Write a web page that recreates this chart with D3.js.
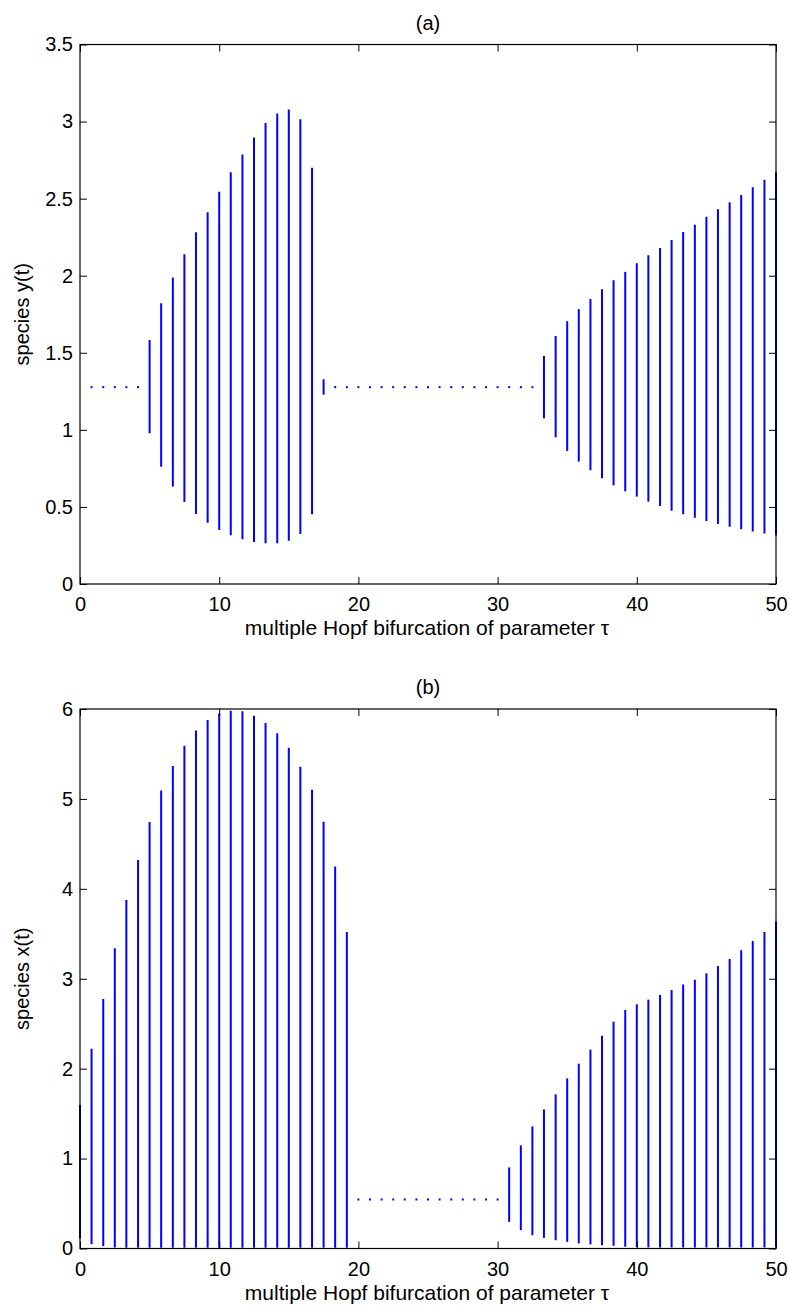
<!DOCTYPE html>
<html>
<head>
<meta charset="utf-8">
<script src="https://cdn.jsdelivr.net/npm/d3@7"></script>
<style>
  body { margin: 0; background: #fff; }
  text { font-family: "Liberation Sans", Arial, Helvetica, sans-serif; }
</style>
</head>
<body>
<div id="chart"></div>
<script>
// tau sample points (x axis), both panels share them
const tau = [0, 0.83, 1.67, 2.5, 3.33, 4.17, 5, 5.83, 6.67, 7.5, 8.33, 9.17, 10, 10.83, 11.67,
             12.5, 13.33, 14.17, 15, 15.83, 16.67, 17.5, 18.33, 19.17, 20, 20.83, 21.67, 22.5,
             23.33, 24.17, 25, 25.83, 26.67, 27.5, 28.33, 29.17, 30, 30.83, 31.67, 32.5, 33.33,
             34.17, 35, 35.83, 36.67, 37.5, 38.33, 39.17, 40, 40.83, 41.67, 42.5, 43.33, 44.17,
             45, 45.83, 46.67, 47.5, 48.33, 49.17, 50];

// panel (a): species y(t), min / max of the oscillation at each tau (null = not drawn)
const yMin = [null, 1.277, 1.277, 1.277, 1.277, 1.277,
              0.978, 0.761, 0.632, 0.532, 0.454, 0.398, 0.350, 0.316, 0.290, 0.273, 0.264, 0.264, 0.281, 0.324, 0.452,
              1.228,
              1.277, 1.277, 1.277, 1.277, 1.277, 1.277, 1.277, 1.277, 1.277, 1.277, 1.277, 1.277, 1.277, 1.277, 1.277, 1.277, 1.277, 1.277,
              1.075, 0.952, 0.863, 0.794, 0.738, 0.686, 0.640, 0.601, 0.567, 0.534, 0.506, 0.476, 0.452, 0.430, 0.409, 0.389, 0.372, 0.355, 0.340, 0.327, 0.316];
const yMax = [null, 1.277, 1.277, 1.277, 1.277, 1.277,
              1.583, 1.821, 1.988, 2.139, 2.282, 2.412, 2.544, 2.672, 2.786, 2.896, 2.990, 3.052, 3.078, 3.015, 2.700,
              1.328,
              1.277, 1.277, 1.277, 1.277, 1.277, 1.277, 1.277, 1.277, 1.277, 1.277, 1.277, 1.277, 1.277, 1.277, 1.277, 1.277, 1.277, 1.277,
              1.480, 1.609, 1.705, 1.783, 1.849, 1.912, 1.971, 2.025, 2.081, 2.133, 2.180, 2.232, 2.284, 2.330, 2.382, 2.431, 2.477, 2.524, 2.574, 2.622, 2.669];

// panel (b): species x(t)
const xMin = [0.110, 0.048, 0.026, 0.011, 0.008, 0.008, 0.008, 0.008, 0.008, 0.008, 0.008, 0.008, 0.008, 0.008, 0.008, 0.008, 0.008, 0.008, 0.008, 0.008, 0.008, 0.008, 0.008, 0.008,
              0.545, 0.545, 0.545, 0.545, 0.545, 0.545, 0.545, 0.545, 0.545, 0.545, 0.545, 0.545, 0.545,
              0.296, 0.204, 0.148, 0.118, 0.092, 0.074, 0.056, 0.045, 0.037, 0.030, 0.020, 0.015, 0.012, 0.010, 0.010, 0.010, 0.010, 0.010, 0.010, 0.010, 0.010, 0.010, 0.010, 0.010];
const xMax = [1.595, 2.222, 2.775, 3.340, 3.877, 4.322, 4.742, 5.094, 5.366, 5.592, 5.762, 5.878, 5.951, 5.981, 5.974, 5.926, 5.844, 5.729, 5.569, 5.358, 5.102, 4.746, 4.248, 3.521,
              0.545, 0.545, 0.545, 0.545, 0.545, 0.545, 0.545, 0.545, 0.545, 0.545, 0.545, 0.545, 0.545,
              0.902, 1.147, 1.358, 1.547, 1.714, 1.892, 2.055, 2.211, 2.367, 2.523, 2.653, 2.716, 2.768, 2.820, 2.875, 2.935, 2.990, 3.061, 3.143, 3.221, 3.317, 3.421, 3.521, 3.636];

const xTicks = [0, 10, 20, 30, 40, 50];
const yTicksA = [0, 0.5, 1, 1.5, 2, 2.5, 3, 3.5];
const yTicksB = [0, 1, 2, 3, 4, 5, 6];

const width = 790, height = 1306;
const left = 80, plotW = 696, plotH = 539.5;
const blue = "#0000ff";

const svg = d3.select("#chart").append("svg")
  .attr("width", width)
  .attr("height", height);

function drawPanel(top, lo, hi, yTop, yTicks, title, ylabel) {
  const g = svg.append("g").attr("transform", `translate(${left},${top})`);

  const x = d3.scaleLinear().domain([0, 50]).range([0, plotW]);
  const y = d3.scaleLinear().domain([0, yTop]).range([plotH, 0]);

  const pts = tau.map((t, i) => ({t: t, lo: lo[i], hi: hi[i]}))
                 .filter(d => d.lo != null);

  // oscillation ranges
  g.selectAll(".seg")
    .data(pts.filter(d => d.hi > d.lo))
    .enter().append("line")
    .attr("class", "seg")
    .attr("x1", d => x(d.t)).attr("x2", d => x(d.t))
    .attr("y1", d => y(d.lo)).attr("y2", d => y(d.hi))
    .attr("stroke", blue)
    .attr("stroke-width", 2);

  // stable equilibrium (single point)
  g.selectAll(".dot")
    .data(pts.filter(d => d.hi === d.lo))
    .enter().append("rect")
    .attr("class", "dot")
    .attr("x", d => x(d.t) - 1)
    .attr("y", d => y(d.lo) - 1)
    .attr("width", 2).attr("height", 2)
    .attr("fill", blue);

  // box
  g.append("rect")
    .attr("width", plotW).attr("height", plotH)
    .attr("fill", "none").attr("stroke", "#000").attr("stroke-width", 1.2);

  const styleAxis = sel => {
    sel.select(".domain").remove();
    sel.selectAll(".tick line").attr("stroke", "#000");
    sel.selectAll("text").attr("font-size", 20).attr("fill", "#000");
  };

  g.append("g").attr("transform", `translate(0,${plotH})`)
    .call(d3.axisBottom(x).tickValues(xTicks).tickSize(-7).tickPadding(13))
    .call(styleAxis);
  g.append("g")
    .call(d3.axisTop(x).tickValues(xTicks).tickSize(-7).tickFormat(""))
    .call(styleAxis);
  g.append("g")
    .call(d3.axisLeft(y).tickValues(yTicks).tickSize(-7).tickPadding(7).tickFormat(d3.format("")))
    .call(styleAxis);
  g.append("g").attr("transform", `translate(${plotW},0)`)
    .call(d3.axisRight(y).tickValues(yTicks).tickSize(-7).tickFormat(""))
    .call(styleAxis);

  g.append("text")
    .attr("x", plotW / 2).attr("y", -15)
    .attr("text-anchor", "middle")
    .attr("font-size", 20)
    .text(title);

  g.append("text")
    .attr("x", plotW / 2 - 1).attr("y", plotH + 51)
    .attr("text-anchor", "middle")
    .attr("font-size", 21)
    .text("multiple Hopf bifurcation of parameter τ");

  g.append("text")
    .attr("transform", `translate(${-51},${plotH / 2}) rotate(-90)`)
    .attr("text-anchor", "middle")
    .attr("font-size", 20)
    .text(ylabel);
}

drawPanel(44.5, yMin, yMax, 3.5, yTicksA, "(a)", "species y(t)");
drawPanel(709, xMin, xMax, 6, yTicksB, "(b)", "species x(t)");
</script>
</body>
</html>
